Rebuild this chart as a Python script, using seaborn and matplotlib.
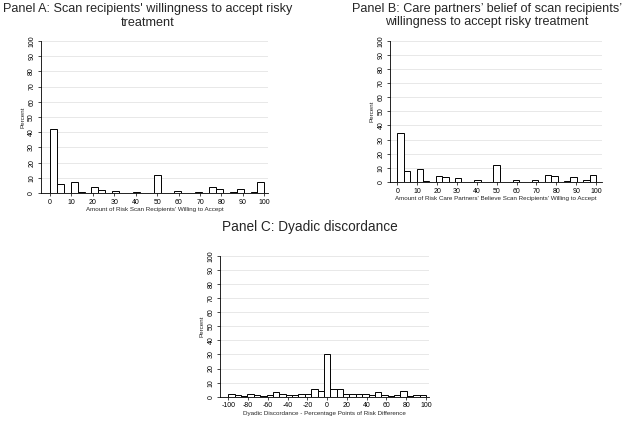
import numpy as np
import pandas as pd
import seaborn as sns
import matplotlib
matplotlib.use("Agg")
import matplotlib.pyplot as plt

sns.set_theme(style="white")
plt.rcParams['font.family'] = ['Liberation Sans', 'DejaVu Sans']
plt.rcParams['axes.unicode_minus'] = False

# ---- data: percent per histogram bin (31 equal bins) ----
panel_a_pct = [42, 6, 0.3, 7.5, 0.7, 0, 4, 2, 0.3, 1.5, 0.3, 0, 0.7, 0.3, 0, 12,
               0, 0.3, 1.2, 0, 0.3, 0.7, 0.3, 4, 2.5, 0, 0.5, 2.7, 0, 0.7, 7]
panel_b_pct = [35, 7.8, 0, 9.4, 0.7, 0.3, 4.2, 3.3, 0, 2.6, 0.3, 0, 1.2, 0.3, 0, 11.8,
               0, 0, 1.2, 0, 0.3, 1.4, 0, 4.7, 4, 0, 0.7, 3.3, 0, 1.2, 5]
panel_c_pct = [2.1, 1, 0.7, 1.9, 1, 0.7, 1.2, 3.3, 1.9, 1.2, 1.4, 1.9, 2.1, 5.2, 4.3, 30.1,
               5.7, 5.4, 2.1, 2, 1.9, 1.9, 1.2, 3.6, 0.9, 0.3, 1, 3.8, 0.5, 1.4, 1.4]

range_ab = (0, 100)
range_c = (-100, 100)
n_bins = 31

titles = ["Panel A: Scan recipients' willingness to accept risky\ntreatment",
          "Panel B: Care partners\u2019 belief of scan recipients\u2019\nwillingness to accept risky treatment",
          "Panel C: Dyadic discordance"]
xlabels = ["Amount of Risk Scan Recipients' Willing to Accept",
           "Amount of Risk Care Partners' Believe Scan Recipients' Willing to Accept",
           "Dyadic Discordance - Percentage Points of Risk Difference"]
ab_ticks = list(range(0, 101, 10))
c_ticks = list(range(-100, 101, 20))
y_ticks = list(range(0, 101, 10))

fig = plt.figure(figsize=(6.25, 4.21), dpi=100)
fig.patch.set_facecolor('white')

W, H = 625, 421
def px_axes(left, right, top, bottom):
    return fig.add_axes([left / W, 1 - bottom / H, (right - left) / W, (bottom - top) / H])

# axes rectangles (pixel): left, right, y of 100, y of 0
axA = px_axes(40.7, 268, 41, 193)
axB = px_axes(390, 601.7, 40.7, 182)
axC = px_axes(220, 429.3, 256, 396.7)

specs = [
    (axA, panel_a_pct, range_ab, ab_ticks, (-4.3, 101.7), xlabels[0]),
    (axB, panel_b_pct, range_ab, ab_ticks, (-3.7, 102.9), xlabels[1]),
    (axC, panel_c_pct, range_c, c_ticks, (-108.4, 103.4), xlabels[2]),
]

for ax, pct, rng, xt, xlim, xlabel in specs:
    edges = list(np.linspace(rng[0], rng[1], n_bins + 1))
    centers = [(a + b) / 2 for a, b in zip(edges[:-1], edges[1:])]
    df = pd.DataFrame({"x": centers, "pct": pct})
    sns.histplot(data=df, x="x", weights="pct", bins=edges, stat="count",
                 color="white", edgecolor="black", linewidth=0.7, alpha=1,
                 ax=ax, zorder=3)
    ax.set_xlim(*xlim)
    ax.set_ylim(0, 100)
    ax.set_xticks(xt)
    ax.set_yticks(y_ticks)
    ax.set_yticklabels([str(v) for v in y_ticks], rotation=90, va='center')
    ax.tick_params(axis='both', which='major', length=2.5, width=0.5, pad=1.5,
                   labelsize=5, direction='out', bottom=True, left=True, colors='black')
    ax.yaxis.grid(True, color='#e4e4e4', linewidth=0.6, zorder=0)
    ax.xaxis.grid(False)
    ax.set_axisbelow(True)
    for s in ['top', 'right']:
        ax.spines[s].set_visible(False)
    for s in ['left', 'bottom']:
        ax.spines[s].set_color('black')
        ax.spines[s].set_linewidth(0.6)
    ax.set_xlabel(xlabel, fontsize=4.5, labelpad=1)
    ax.set_ylabel("Percent", fontsize=4.5, labelpad=2)
    ax.set_facecolor('white')

fig.text(148 / W, 1 - 16 / H, titles[0], ha='center', va='center', fontsize=9.1,
         linespacing=1.15, multialignment='center')
fig.text(487 / W, 1 - 15.5 / H, titles[1], ha='center', va='center', fontsize=9.1,
         linespacing=1.15, multialignment='center')
fig.text(310 / W, 1 - 227 / H, titles[2], ha='center', va='center', fontsize=9.8)

fig.savefig("out.png", dpi=100, facecolor='white')
